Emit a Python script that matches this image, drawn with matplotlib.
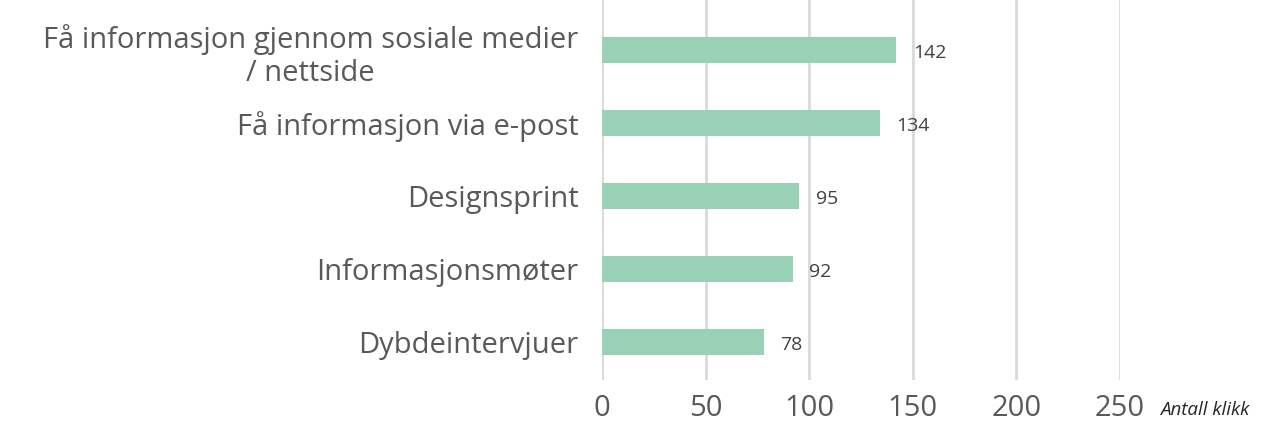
import matplotlib
matplotlib.use("Agg")
import matplotlib.pyplot as plt

categories = ["Dybdeintervjuer", "Informasjonsmøter", "Designsprint",
              "Få informasjon via e-post",
              "Få informasjon gjennom sosiale medier\n/ nettside"]
values = [78, 92, 95, 134, 142]
xticks = [0, 50, 100, 150, 200, 250]

plt.rcParams['font.family'] = ['Open Sans', 'DejaVu Sans']

fig = plt.figure(figsize=(12.72, 4.30), dpi=100)
ax = fig.add_axes([602/1272, 1-380/430, 518/1272, 380/430])

y = list(range(len(categories)))
ax.barh(y, values, height=0.36, color="#99d1b7", zorder=3)
for yi, v in zip(y, values):
    ax.annotate(str(v), (v, yi), xytext=(12, -2), textcoords="offset points",
                va="center", ha="left", fontsize=14, color="#404040")

ax.set_xlim(0, 250)
ax.set_ylim(-0.52, 4.685)
ax.set_xticks(xticks)
ax.set_xticklabels([str(t) for t in xticks], fontsize=21, color="#595959")
ax.set_yticks(y)
labels = ax.set_yticklabels(categories, fontsize=21, color="#595959", ha="right",
                            linespacing=1.2)
for lab in labels:
    lab.set_multialignment("center")
ax.tick_params(axis="y", length=0, pad=17)
ax.tick_params(axis="x", length=0, pad=10)
ax.grid(axis="x", color="#d9d9d9", linewidth=2, zorder=0)
for s in ax.spines.values():
    s.set_visible(False)

fig.text(1160/1272, 1-410/430, "Antall klikk", fontsize=13.5, style="italic",
         color="#262626", va="center", ha="left")

fig.savefig("out.png", dpi=100)
